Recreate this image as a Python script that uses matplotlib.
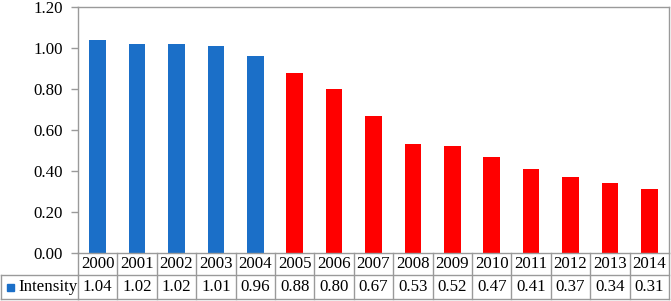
import matplotlib
matplotlib.use("Agg")
import matplotlib.pyplot as plt
import matplotlib.transforms as mtransforms
from matplotlib.patches import Rectangle

years = ["2000", "2001", "2002", "2003", "2004", "2005", "2006", "2007",
         "2008", "2009", "2010", "2011", "2012", "2013", "2014"]
intensity = [1.04, 1.02, 1.02, 1.01, 0.96, 0.88, 0.80, 0.67,
             0.53, 0.52, 0.47, 0.41, 0.37, 0.34, 0.31]
value_labels = ["1.04", "1.02", "1.02", "1.01", "0.96", "0.88", "0.80", "0.67",
                "0.53", "0.52", "0.47", "0.41", "0.37", "0.34", "0.31"]
series_name = "Intensity"
y_ticks = [0.0, 0.2, 0.4, 0.6, 0.8, 1.0, 1.2]

BLUE = "#1B6FC8"
RED = "#FF0000"
LINE = "#9a9a9a"
colors = [BLUE if int(y) < 2005 else RED for y in years]

plt.rcParams["font.family"] = ["Liberation Serif", "DejaVu Serif"]
FS = 12.2

W, H = 671, 301
fig = plt.figure(figsize=(W / 100, H / 100), dpi=100)
L, R, T, B = 78, 669, 7, 253
ax = fig.add_axes([L / W, 1 - B / H, (R - L) / W, (B - T) / H])

x = list(range(len(years)))
ax.bar(x, intensity, width=0.42, color=colors, zorder=2)
ax.set_xlim(-0.5, len(years) - 0.5)
ax.set_ylim(0, 1.2)
ax.set_yticks(y_ticks)
ax.set_yticklabels([f"{v:.2f}" for v in y_ticks], fontsize=FS)
ax.set_xticks([])
for s in ax.spines.values():
    s.set_color(LINE)
    s.set_linewidth(1.0)
ax.tick_params(axis="y", length=5, color=LINE, width=1.0, pad=6)

# Data table below the axes
px = (B - T)  # axes height in px
r1 = -22 / px
r2 = -46 / px
trans = mtransforms.blended_transform_factory(ax.transData, ax.transAxes)
lk = dict(color=LINE, lw=1.0, clip_on=False, transform=trans)
for i in range(len(years) + 1):
    ax.plot([i - 0.5, i - 0.5], [0, r2], **lk)
ax.plot([-0.5, len(years) - 0.5], [r1, r1], **lk)
ax.plot([-0.5, len(years) - 0.5], [r2, r2], **lk)
for i, (yr, vl) in enumerate(zip(years, value_labels)):
    ax.text(i, r1 / 2, yr, transform=trans, ha="center", va="center", fontsize=FS)
    ax.text(i, (r1 + r2) / 2, vl, transform=trans, ha="center", va="center", fontsize=FS)

# Legend cell (figure coords)
fy1 = 1 - (B + 22) / H
fy2 = 1 - (B + 46) / H
fl = dict(color=LINE, lw=1.0, transform=fig.transFigure)
fig.add_artist(plt.Line2D([0.5 / W, L / W], [fy1, fy1], **fl))
fig.add_artist(plt.Line2D([0.5 / W, L / W], [fy2, fy2], **fl))
fig.add_artist(plt.Line2D([0.5 / W, 0.5 / W], [fy1, fy2], **fl))
fig.add_artist(Rectangle((7 / W, 1 - (B + 38) / H), 7 / W, 7 / H,
                         transform=fig.transFigure, color=BLUE))
fig.text(18 / W, (fy1 + fy2) / 2, series_name, ha="left", va="center", fontsize=FS)

fig.savefig("out.png", dpi=100)
